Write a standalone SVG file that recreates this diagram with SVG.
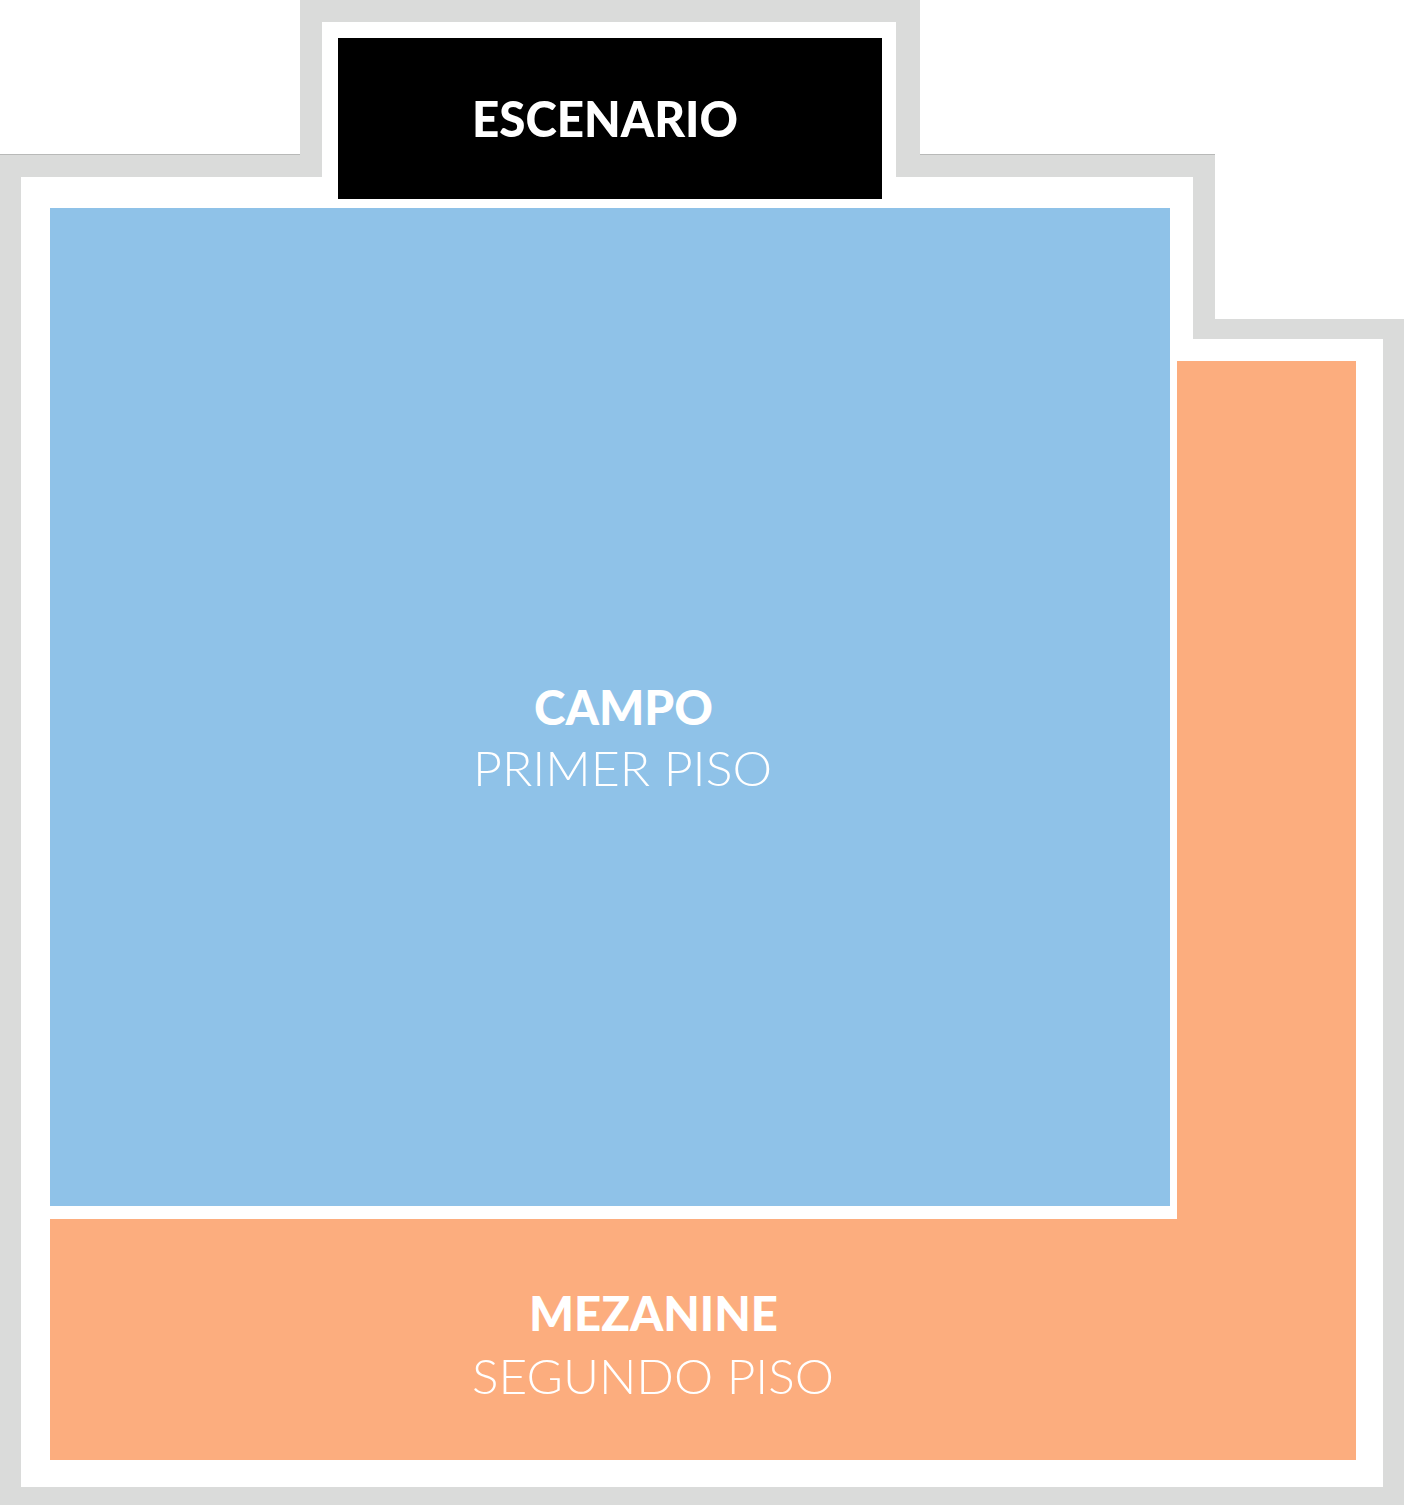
<svg xmlns="http://www.w3.org/2000/svg" width="1404" height="1505" viewBox="0 0 1404 1505">
  <style>
    .bold { font-family: Lato, "Liberation Sans", sans-serif; font-weight: 900; fill: #ffffff; text-anchor: middle; }
    .light { font-family: Lato, "Liberation Sans", sans-serif; font-weight: 300; fill: #ffffff; text-anchor: middle; }
  </style>
  <rect width="1404" height="1505" fill="#ffffff"/>
  <g id="venue">
    <polygon points="0,154 300,154 300,0 920,0 920,154 1215,154 1215,319 1404,319 1404,1505 0,1505" fill="#dadbda"/>
    <polygon points="21,177 322,177 322,22 896,22 896,177 1193,177 1193,339 1383,339 1383,1487 21,1487" fill="#ffffff"/>
    <line x1="0" y1="154.5" x2="300" y2="154.5" stroke="#b8b9b8" stroke-width="1"/>
    <line x1="920" y1="154.5" x2="1215" y2="154.5" stroke="#b8b9b8" stroke-width="1"/>
  </g>
  <g id="escenario">
    <rect x="338" y="38" width="544" height="161" fill="#000000"/>
    <text class="bold" x="605" y="137" font-size="50" textLength="266" lengthAdjust="spacingAndGlyphs">ESCENARIO</text>
  </g>
  <g id="campo">
    <rect x="50" y="208" width="1120" height="998" fill="#8fc2e8"/>
    <text class="bold" x="623.5" y="725" font-size="48" textLength="179" lengthAdjust="spacingAndGlyphs">CAMPO</text>
    <text class="light" x="622.5" y="786" font-size="47" textLength="299" lengthAdjust="spacingAndGlyphs">PRIMER PISO</text>
  </g>
  <g id="mezanine">
    <polygon points="1177,361 1356,361 1356,1460 50,1460 50,1219 1177,1219" fill="#fcad7e"/>
    <text class="bold" x="653.5" y="1331" font-size="47" textLength="249" lengthAdjust="spacingAndGlyphs">MEZANINE</text>
    <text class="light" x="653" y="1394" font-size="48" textLength="362" lengthAdjust="spacingAndGlyphs">SEGUNDO PISO</text>
  </g>
</svg>
